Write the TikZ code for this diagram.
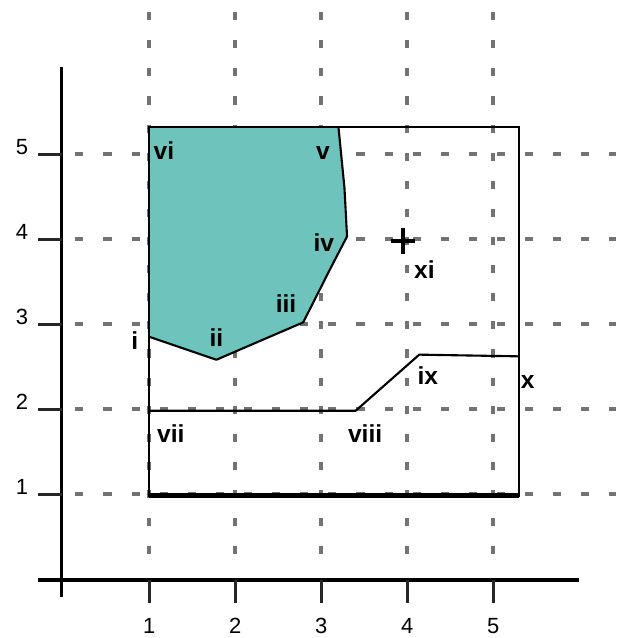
\documentclass[tikz,border=0pt]{standalone}
\usepackage{fontspec}
\setmainfont{Liberation Sans}
\definecolor{tealfill}{RGB}{110,196,188}
\definecolor{gridgray}{RGB}{115,115,115}
\begin{document}
\begin{tikzpicture}[x=0.02cm,y=-0.02cm]
\useasboundingbox (0,0) rectangle (616,638);
\begin{scope}[shift={(63.3,579)}, x=1.72cm, y=1.70cm,
  gridline/.style={line width=2.1pt, gridgray, dash pattern=on 4.6pt off 11.4pt},
  axisline/.style={line width=2pt, black},
  tickline/.style={line width=1.7pt, black!85},
  edgeline/.style={line width=1.2pt, black, line join=round},
  rectline/.style={line width=1.3pt, black},
  lbl/.style={inner sep=0pt, font=\fontsize{14}{14}\selectfont\bfseries},
  num/.style={inner sep=0pt, font=\fontsize{12.5}{12.5}\selectfont}]
% grid
\foreach \k in {1,...,5} {
  \draw[gridline] (\k,6.67) -- (\k,0.19);
  \draw[gridline] (0.14,\k) -- (6.43,\k);
}
% teal region
\coordinate (p6) at (1,5.32);
\coordinate (p5) at (3.2,5.32);
\coordinate (p5b) at (3.27,4.6);
\coordinate (p4) at (3.3,4.03);
\coordinate (p4b) at (3.14,3.72);
\coordinate (p3) at (2.79,3.02);
\coordinate (p2) at (1.78,2.58);
\coordinate (p1) at (1,2.85);
\fill[tealfill] (p6) -- (p5) -- (p5b) -- (p4) -- (p4b) -- (p3) -- (p2) -- (p1) -- cycle;
% rectangle
\coordinate (r1) at (1,0.98);
\coordinate (r2) at (5.3,0.98);
\coordinate (r3) at (5.3,5.32);
\coordinate (r4) at (1,5.32);
\draw[rectline] (r1) rectangle (r3);
\draw[line width=2.6pt] (r1) -- (r2);
\draw[edgeline] (p1) -- (p2) -- (p3) -- (p4b) -- (p4) -- (p5b) -- (p5);
% inner path
\coordinate (q7) at (1,1.98);
\coordinate (q8) at (3.40,1.98);
\coordinate (q9) at (4.14,2.64);
\coordinate (q10) at (5.3,2.62);
\draw[edgeline] (q7) -- (q8) -- (q9) -- (q10);
% axes
\coordinate (ya) at (-0.02,6.02);
\coordinate (yb) at (-0.02,-0.21);
\coordinate (xa) at (-0.29,-0.01);
\coordinate (xb) at (6.0,-0.01);
\draw[axisline] (ya) -- (yb);
\draw[axisline] (xa) -- (xb);
\foreach \k in {1,...,5} {
  \draw[tickline] (-0.29,\k) -- (-0.02,\k);
  \draw[tickline] (\k,-0.01) -- (\k,-0.28);
  \node[num] (ylab\k) at (-0.48,\k+0.08) {\k};
  \node[num] (xlab\k) at (\k,-0.55) {\k};
}
% point xi
\coordinate (c) at (3.95,3.98);
\draw[line width=2.3pt] ([xshift=-0.24cm]c) -- ([xshift=0.24cm]c);
\draw[line width=2.3pt] ([yshift=-0.26cm]c) -- ([yshift=0.26cm]c);
% labels
\node[lbl] (li) at (0.83,2.81) {i};
\node[lbl] (lii) at (1.78,2.84) {ii};
\node[lbl] (liii) at (2.59,3.24) {iii};
\node[lbl] (liv) at (3.03,3.96) {iv};
\node[lbl] (lv) at (3.02,5.01) {v};
\node[lbl] (lvi) at (1.17,5.04) {vi};
\node[lbl] (lvii) at (1.25,1.71) {vii};
\node[lbl] (lviii) at (3.51,1.71) {viii};
\node[lbl] (lix) at (4.24,2.39) {ix};
\node[lbl] (lx) at (5.40,2.32) {x};
\node[lbl] (lxi) at (4.2,3.64) {xi};
\end{scope}
\end{tikzpicture}
\end{document}
